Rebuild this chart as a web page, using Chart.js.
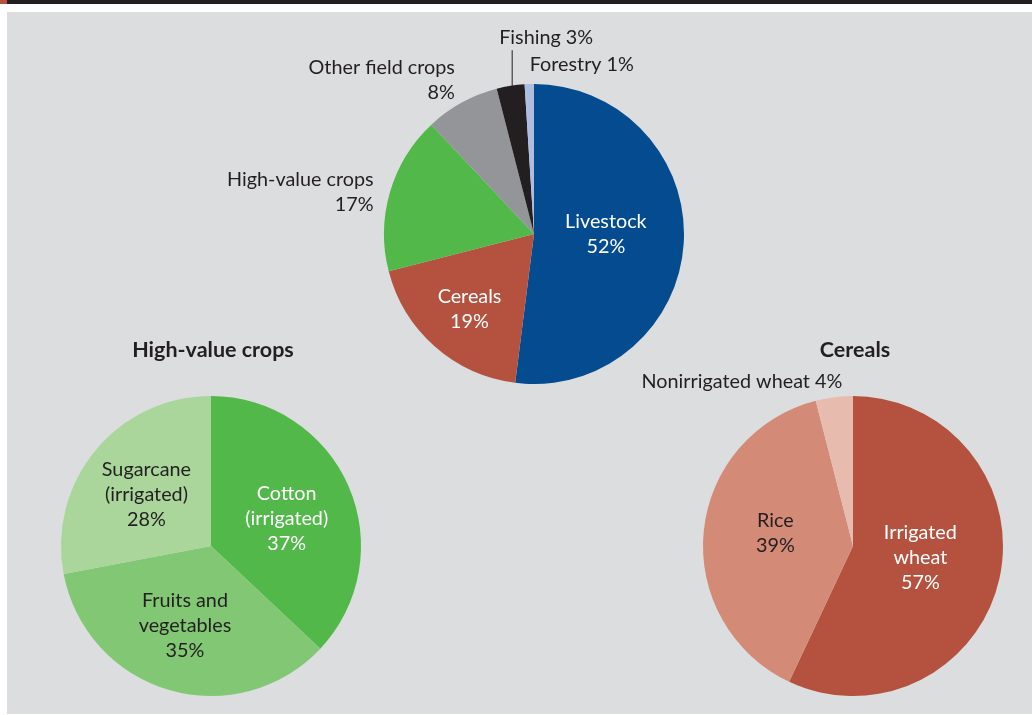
<!DOCTYPE html>
<html>
<head>
<meta charset="utf-8">
<script src="https://cdn.jsdelivr.net/npm/chart.js@4.4.0/dist/chart.umd.min.js"></script>
<style>
  html, body { margin: 0; padding: 0; background: #ffffff; }
  body { width: 1032px; height: 715px; position: relative; overflow: hidden; }
  #topbar { position: absolute; left: 0; top: 0; width: 1032px; height: 4px; background: #231f20; }
  #topmark { position: absolute; left: 0; top: 0; width: 7px; height: 4px; background: #b5523f; }
  #panel { position: absolute; left: 7px; top: 12px; right: 0; bottom: 1px; background: #dcdddf; }
  canvas { position: absolute; left: 0; top: 0; }
</style>
</head>
<body>
<div id="topbar"></div>
<div id="topmark"></div>
<div id="panel"></div>
<canvas id="sectors" width="1032" height="715"></canvas>
<canvas id="highValue" width="1032" height="715"></canvas>
<canvas id="cereals" width="1032" height="715"></canvas>
<script>
// Share of agricultural value by subsector (percent)
const sectorLabels = [['Livestock'], ['Cereals'], ['High-value crops'], ['Other field crops'], ['Fishing'], ['Forestry']];
const sectorShares = [52, 19, 17, 8, 3, 1];

// Breakdown of high-value crops (percent)
const highValueLabels = [['Cotton', '(irrigated)'], ['Fruits and', 'vegetables'], ['Sugarcane', '(irrigated)']];
const highValueShares = [37, 35, 28];

// Breakdown of cereals (percent)
const cerealLabels = [['Irrigated', 'wheat'], ['Rice'], ['Nonirrigated wheat']];
const cerealShares = [57, 39, 4];

const W = 1032, H = 715, R = 150;
const FONT = 'Lato, "Open Sans", sans-serif';
const DARK = '#231f20', WHITE = '#ffffff';

// Draws the slice labels (name lines + percentage) and optional pie heading
const sliceLabels = {
  id: 'sliceLabels',
  afterDatasetsDraw(chart, args, opts) {
    const ctx = chart.ctx;
    const meta = chart.getDatasetMeta(0);
    const values = chart.data.datasets[0].data;
    ctx.save();
    ctx.textBaseline = 'middle';
    meta.data.forEach((arc, i) => {
      const st = opts.styles[i];
      const p = arc.getProps(['x', 'y', 'startAngle', 'endAngle', 'outerRadius'], true);
      const mid = (p.startAngle + p.endAngle) / 2;
      const ax = p.x + Math.cos(mid) * p.outerRadius * st.r;
      const ay = p.y + Math.sin(mid) * p.outerRadius * st.r;
      const name = chart.data.labels[i];
      const pct = values[i] + '%';
      const lines = st.inline ? [name.join(' ') + ' ' + pct] : [...name, pct];
      if (st.leader) {
        ctx.strokeStyle = DARK;
        ctx.lineWidth = 1;
        ctx.beginPath();
        ctx.moveTo(ax, ay);
        ctx.lineTo(ax, ay - st.leader);
        ctx.stroke();
      }
      const x = ax + (st.dx || 0);
      const y = ay + (st.dy || 0);
      ctx.font = opts.fontSize + 'px ' + FONT;
      ctx.fillStyle = st.color;
      ctx.textAlign = st.align || 'center';
      const y0 = y - (lines.length - 1) * opts.lineHeight / 2;
      lines.forEach((t, k) => ctx.fillText(t, x, y0 + k * opts.lineHeight));
    });
    if (opts.heading) {
      const a = meta.data[0];
      ctx.font = 'bold ' + opts.headingSize + 'px ' + FONT;
      ctx.fillStyle = DARK;
      ctx.textAlign = 'center';
      ctx.fillText(opts.heading, a.x + 2, a.y - a.outerRadius - opts.headingGap);
    }
    ctx.restore();
  }
};

function makePie(id, cx, cy, labels, values, colors, styles, heading) {
  return new Chart(document.getElementById(id), {
    type: 'pie',
    data: {
      labels: labels,
      datasets: [{
        data: values,
        backgroundColor: colors,
        borderWidth: 0,
        hoverBorderWidth: 0,
        hoverOffset: 0,
        offset: 0
      }]
    },
    options: {
      responsive: false,
      animation: false,
      events: [],
      radius: R,
      layout: { padding: { left: cx - R, top: cy - R, right: W - cx - R, bottom: H - cy - R } },
      plugins: {
        legend: { display: false },
        tooltip: { enabled: false },
        title: { display: false },
        sliceLabels: {
          styles: styles,
          fontSize: 19.8,
          lineHeight: 25,
          heading: heading,
          headingSize: 21.5,
          headingGap: 46
        }
      }
    },
    plugins: [sliceLabels]
  });
}

makePie('sectors', 534, 234, sectorLabels, sectorShares,
  ['#044b8f', '#b4523f', '#52b849', '#939598', '#231f20', '#aebde0'],
  [
    { r: 0.48, color: WHITE, dy: -4 },
    { r: 0.65, color: WHITE, dy: 2 },
    { r: 1.1, color: DARK, align: 'right', dx: -2, dy: 4 },
    { r: 1.15, color: DARK, align: 'right', dx: 4, dy: -3 },
    { r: 0.93, color: DARK, align: 'left', inline: true, leader: 46, dx: -13, dy: -59 },
    { r: 1.12, color: DARK, align: 'left', inline: true, dx: 1, dy: -1 }
  ], null);

makePie('highValue', 211, 546, highValueLabels, highValueShares,
  ['#52b849', '#82c874', '#aad69c'],
  [
    { r: 0.55, color: WHITE, dy: 5 },
    { r: 0.55, color: DARK, dx: -3 },
    { r: 0.55, color: DARK, dx: -1, dy: 1 }
  ], 'High-value crops');

makePie('cereals', 853, 546, cerealLabels, cerealShares,
  ['#b4523f', '#d38a77', '#e7bcaf'],
  [
    { r: 0.46, color: WHITE, dy: -3 },
    { r: 0.52, color: DARK, dy: -6 },
    { r: 1.1, color: DARK, align: 'right', inline: true, dx: 10, dy: -1 }
  ], 'Cereals');
</script>
</body>
</html>
